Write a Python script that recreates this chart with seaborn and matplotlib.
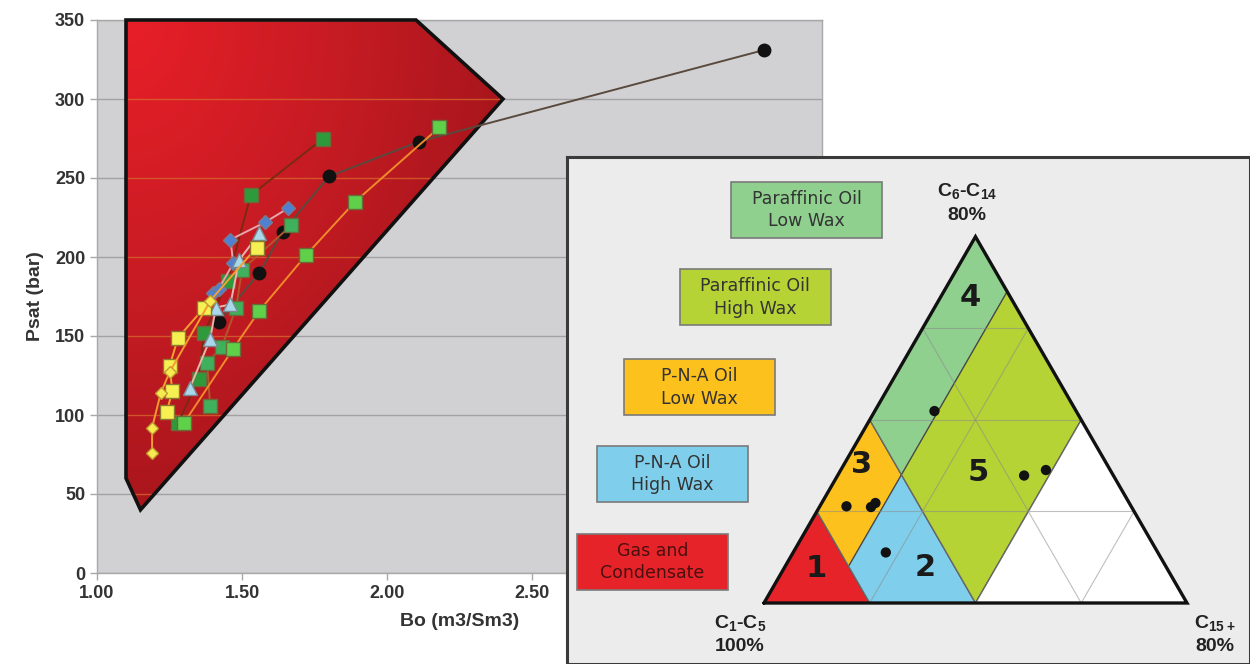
import numpy as np
import pandas as pd
import matplotlib
matplotlib.use("Agg")
import matplotlib.pyplot as plt
from matplotlib.patches import Polygon, Rectangle
from matplotlib.colors import LinearSegmentedColormap
import seaborn as sns

sns.set_theme(style="white")
plt.rcParams["font.family"] = ["Liberation Sans", "DejaVu Sans"]
plt.rcParams["mathtext.fontset"] = "custom"
plt.rcParams["mathtext.rm"] = "Liberation Sans:bold"
plt.rcParams["mathtext.bf"] = "Liberation Sans:bold"
plt.rcParams["mathtext.default"] = "bf"

# %% Data: Bo vs Psat
envelope_bo = [1.10, 2.10, 2.40, 1.15, 1.10]
envelope_psat = [350, 350, 300, 40, 60]

black_bo = [1.42, 1.56, 1.64, 1.80, 2.11, 3.30]
black_psat = [159, 190, 216, 251, 273, 331]

dkgreen_bo = [1.28, 1.35, 1.37, 1.45, 1.53, 1.78]
dkgreen_psat = [95, 123, 152, 185, 239, 275]

ltgreen_bo = [1.30, 1.47, 1.56, 1.72, 1.89, 2.18]
ltgreen_psat = [95, 142, 166, 201, 235, 282]

mdgreen_bo = [1.39, 1.38, 1.43, 1.48, 1.50, 1.67]
mdgreen_psat = [106, 133, 143, 168, 192, 220]

blue_bo = [1.40, 1.42, 1.47, 1.46, 1.58, 1.66]
blue_psat = [177, 180, 196, 211, 222, 231]

tri_bo = [1.32, 1.39, 1.41, 1.46, 1.49, 1.56]
tri_psat = [117, 148, 168, 170, 198, 215]

ysq_bo = [1.24, 1.26, 1.25, 1.28, 1.37, 1.55]
ysq_psat = [102, 115, 131, 149, 168, 206]

ydia_bo = [1.19, 1.19, 1.22, 1.25, 1.39]
ydia_psat = [76, 92, 114, 127, 172]

# %% Data: ternary (a = C6-C14 fraction, c = C15+ fraction)
region_names = ["1", "3", "2", "4", "5", "white"]
region_colors = ["#e52329", "#fcc11c", "#7fcfec", "#8fd08f", "#b5d335", "#ffffff"]
region_vertices = [
    [(0, 0), (0, 0.25), (0.25, 0)],
    [(0.25, 0), (0.5, 0), (0.35, 0.15), (0.1, 0.15)],
    [(0.1, 0.15), (0.35, 0.15), (0, 0.5), (0, 0.25)],
    [(0.5, 0), (1, 0), (0.85, 0.15), (0.35, 0.15)],
    [(0.35, 0.15), (0.85, 0.15), (0.5, 0.5), (0, 0.5)],
    [(0, 0.5), (0.5, 0.5), (0, 1)],
]
sample_a = [0.524, 0.348, 0.363, 0.264, 0.262, 0.273, 0.138]
sample_c = [0.141, 0.441, 0.485, 0.063, 0.122, 0.127, 0.219]

legend_labels = ["Paraffinic Oil\nLow Wax", "Paraffinic Oil\nHigh Wax",
                 "P-N-A Oil\nLow Wax", "P-N-A Oil\nHigh Wax", "Gas and\nCondensate"]
legend_colors = ["#8fd08f", "#b5d335", "#fcc11c", "#7fcfec", "#e52329"]


def tern(a, c):
    a = np.asarray(a, dtype=float)
    c = np.asarray(c, dtype=float)
    return c + a / 2, a * np.sqrt(3) / 2


# %% Figure
fig = plt.figure(figsize=(12.5, 6.64), dpi=100)
ax = fig.add_axes([97 / 1250, 91 / 664, 725 / 1250, 553 / 664])
ax.set_facecolor("#d1d1d3")
ax.set_xlim(1.0, 3.5)
ax.set_ylim(0, 350)
ax.set_yticks(np.arange(0, 351, 50))
ax.set_xticks(np.arange(1.0, 3.51, 0.5))
ax.set_xticklabels([f"{v:.2f}" for v in np.arange(1.0, 3.51, 0.5)])
ax.grid(axis="y", color="#a2a2a4", lw=1)
ax.set_axisbelow(True)
for s in ax.spines.values():
    s.set_color("#a8a8a8")
    s.set_linewidth(1)
ax.tick_params(axis="both", labelsize=13, colors="#333333", length=5,
               width=1, direction="out", left=True, bottom=True)
ax.tick_params(axis="both", color="#a8a8a8")
for lab in ax.get_xticklabels() + ax.get_yticklabels():
    lab.set_fontweight("bold")

# envelope with gradient fill
env_xy = np.column_stack([envelope_bo, envelope_psat])
clip_poly = Polygon(env_xy, closed=True, transform=ax.transData)
gx, gy = np.meshgrid(np.linspace(1.0, 2.5, 300), np.linspace(350, 30, 300))
t = np.sqrt(((gx - 1.1) / 1.3) ** 2 + ((350 - gy) / 310) ** 2) / 1.2
cmap = LinearSegmentedColormap.from_list("env", ["#e81f28", "#c41b23", "#9c1319"])
img = ax.imshow(np.clip(t, 0, 1), extent=[1.0, 2.5, 30, 350], cmap=cmap,
                aspect="auto", origin="upper", zorder=1, vmin=0, vmax=1)
img.set_clip_path(clip_poly)
for yv in np.arange(50, 351, 50):
    ln = ax.axhline(yv, color="#d86a2c", lw=1, alpha=0.75, zorder=2)
    ln.set_clip_path(clip_poly)
ax.add_patch(Polygon(env_xy, closed=True, facecolor="none", edgecolor="#111111",
                     lw=2.6, zorder=3, clip_on=False, joinstyle="miter"))

series = [
    (black_bo, black_psat, "o", "#111111", "#111111", "#5a4a3e", 9),
    (dkgreen_bo, dkgreen_psat, "s", "#2f9a3c", "#6a6a3a", "#7a2a10", 9.5),
    (mdgreen_bo, mdgreen_psat, "s", "#3fb05c", "#6a6a3a", "#b5552a", 9.5),
    (ltgreen_bo, ltgreen_psat, "s", "#5fd04a", "#6a6a3a", "#f08a2a", 9.5),
    (blue_bo, blue_psat, "D", "#4f80d2", "#7a7a8a", "#e8a4ac", 7.5),
    (tri_bo, tri_psat, "^", "#a8d8ea", "#7a8a90", "#f0b4b0", 9.5),
    (ysq_bo, ysq_psat, "s", "#f7f052", "#8a7a30", "#f5a030", 9.5),
    (ydia_bo, ydia_psat, "D", "#f7ea50", "#c09a30", "#f59a30", 6.5),
]
for i, (bx, py, mk, fc, ec, lc, ms) in enumerate(series):
    df = pd.DataFrame({"Bo": bx, "Psat": py})
    sns.lineplot(data=df, x="Bo", y="Psat", sort=False, estimator=None, ax=ax,
                 color=lc, lw=1.4, marker=mk, markersize=ms, markerfacecolor=fc,
                 markeredgecolor=ec, markeredgewidth=1, zorder=5 + i)
ax.set_xlabel("Bo (m3/Sm3)", fontsize=14, fontweight="bold", color="#333333", labelpad=8)
ax.set_ylabel("Psat (bar)", fontsize=14, fontweight="bold", color="#333333", labelpad=8)

# %% Ternary inset
tx = fig.add_axes([567 / 1250, 0, 683 / 1250, 507 / 664])
tx.set_facecolor("#ececec")
tx.set_xlim(-0.4657, 1.149)
tx.set_ylim(-0.1442, 1.0544)
tx.set_xticks([])
tx.set_yticks([])
for s in tx.spines.values():
    s.set_color("#3a3a3a")
    s.set_linewidth(2.2)

for verts, col in zip(region_vertices, region_colors):
    a_v, c_v = zip(*verts)
    X, Y = tern(a_v, c_v)
    tx.add_patch(Polygon(np.column_stack([X, Y]), closed=True, facecolor=col,
                         edgecolor="#4a4a4a", lw=0.9, zorder=1))

# grid
for g in [0.25, 0.5, 0.75]:
    for p0, p1 in [((g, 0), (g, 1 - g)), ((0, g), (1 - g, g)), ((0, 1 - g), (1 - g, 0))]:
        X, Y = tern([p0[0], p1[0]], [p0[1], p1[1]])
        tx.plot(X, Y, color="#8a8a8a", lw=0.8, alpha=0.55, zorder=2)

X, Y = tern([0, 1, 0, 0], [0, 0, 1, 0])
tx.plot(X, Y, color="#111111", lw=2.4, zorder=3, solid_joinstyle="miter")

sx, sy = tern(sample_a, sample_c)
sns.scatterplot(x=sx, y=sy, ax=tx, color="#111111", s=55, edgecolor="none", zorder=4)

num_labels = ["1", "2", "3", "4", "5"]
num_a = [0.095, 0.098, 0.377, 0.835, 0.355]
num_c = [0.076, 0.332, 0.043, 0.070, 0.329]
nx, ny = tern(num_a, num_c)
for lab, x, y in zip(num_labels, nx, ny):
    tx.text(x, y, lab, fontsize=22, fontweight="bold", ha="center", va="center",
            color="#1a1a1a", family=["DejaVu Sans"], zorder=5)

# legend boxes
box_x = [-0.078, -0.199, -0.331, -0.395, -0.442]
box_y = [0.863, 0.657, 0.444, 0.239, 0.031]
box_w, box_h = 0.357, 0.132
for lab, col, x0, y0 in zip(legend_labels, legend_colors, box_x, box_y):
    tx.add_patch(Rectangle((x0, y0), box_w, box_h, facecolor=col,
                           edgecolor="#7a7a7a", lw=1.2, zorder=3))
    tcol = "#4a1010" if col == "#e52329" else "#333333"
    tx.text(x0 + box_w / 2, y0 + box_h / 2, lab, ha="center", va="center",
            fontsize=12.5, color=tcol, family=["DejaVu Sans"], linespacing=1.35,
            zorder=4)

corner_kw = dict(ha="center", va="center", fontsize=14, fontweight="bold", color="#222222")
tx.text(0.48, 0.975, "C$_{6}$-C$_{14}$", **corner_kw)
tx.text(0.48, 0.917, "80%", **corner_kw)
tx.text(-0.057, -0.047, "C$_{1}$-C$_{5}$", **corner_kw)
tx.text(-0.057, -0.104, "100%", **corner_kw)
tx.text(1.066, -0.047, "C$_{15+}$", **corner_kw)
tx.text(1.066, -0.104, "80%", **corner_kw)

fig.savefig("out.png", dpi=100, facecolor="white")
